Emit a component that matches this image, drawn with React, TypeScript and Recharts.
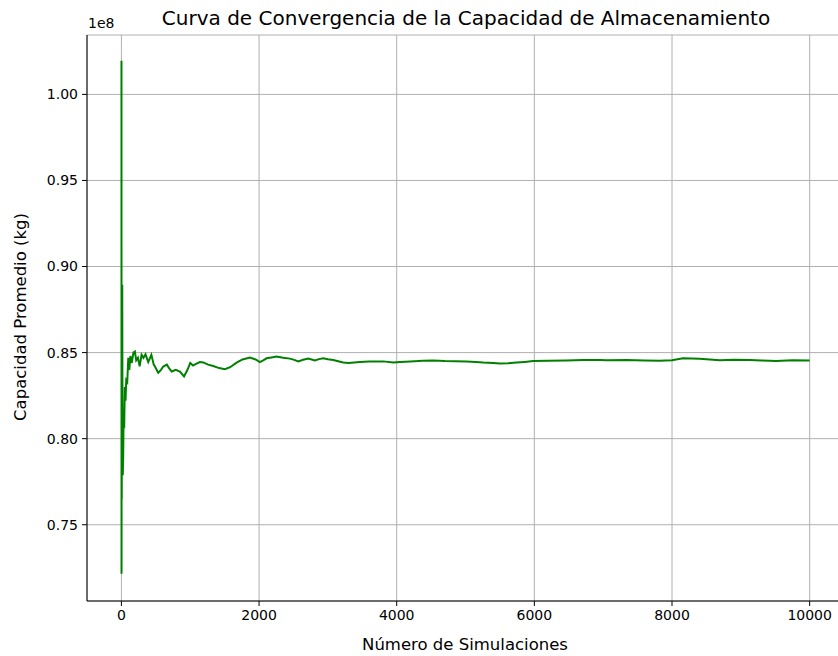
import React from "react";
import {
  LineChart,
  Line,
  XAxis,
  YAxis,
  CartesianGrid,
} from "recharts";

const simulaciones = [
  1, 2, 3, 5, 8, 12, 16, 20, 26, 32, 40, 50, 60, 70, 85, 100, 115, 130, 150,
  175, 196, 215, 240, 265, 293, 320, 350, 390, 435, 470, 487, 535, 575, 608,
  660, 700, 730, 790, 850, 910, 960, 1000, 1040, 1070, 1140, 1190, 1260, 1334,
  1420, 1503, 1580, 1673, 1760, 1867, 1950, 2012, 2060, 2109, 2180, 2254, 2350,
  2448, 2510, 2570, 2640, 2715, 2812, 2870, 2933, 3000, 3078, 3150, 3223, 3300,
  3465, 3600, 3804, 3950, 4046, 4200, 4380, 4530, 4700, 4850, 5014, 5150, 5256,
  5400, 5498, 5620, 5740, 5860, 5982, 6200, 6466, 6708, 6950, 7047, 7337, 7600,
  7821, 8000, 8160, 8402, 8693, 8900, 9129, 9300, 9516, 9750, 10000,
];

// running mean capacity, in units of 1e8 kg
const capacidad = [
  1.0195, 0.7216, 0.87, 0.765, 0.84, 0.8894, 0.805, 0.7787, 0.79, 0.815, 0.806,
  0.83, 0.822, 0.834, 0.833, 0.847, 0.84, 0.848, 0.844, 0.85, 0.8506, 0.8455,
  0.847, 0.842, 0.8487, 0.847, 0.849, 0.8445, 0.8487, 0.843, 0.8419, 0.8383,
  0.84, 0.8419, 0.843, 0.8405, 0.839, 0.84, 0.839, 0.8362, 0.84, 0.844, 0.8425,
  0.8432, 0.8445, 0.8443, 0.843, 0.8422, 0.841, 0.8403, 0.8415, 0.8442, 0.846,
  0.8471, 0.846, 0.8445, 0.8455, 0.8467, 0.8472, 0.8477, 0.847, 0.8465, 0.8458,
  0.8449, 0.8458, 0.8465, 0.8454, 0.8462, 0.8467, 0.8462, 0.8457, 0.845,
  0.8442, 0.844, 0.8445, 0.8448, 0.8449, 0.8443, 0.8445, 0.8448, 0.8452,
  0.8454, 0.8451, 0.845, 0.8449, 0.8446, 0.8442, 0.8439, 0.8436, 0.8438,
  0.8442, 0.8446, 0.8451, 0.8452, 0.8454, 0.8457, 0.8457, 0.8455, 0.8457,
  0.8454, 0.8452, 0.8456, 0.8467, 0.8464, 0.8455, 0.8459, 0.8457, 0.8454,
  0.8451, 0.8455, 0.8454,
];

const xTicks = [0, 2000, 4000, 6000, 8000, 10000];
const yTicks = [0.75, 0.8, 0.85, 0.9, 0.95, 1.0].map((v) => v * 1e8);

const data = simulaciones.map((n, i) => ({
  n,
  cap: capacidad[i] * 1e8,
}));

const FONT = "'DejaVu Sans', sans-serif";
const tickStyle = { fontSize: 14, fill: "#000", fontFamily: FONT };

export default function App() {
  return (
    <div
      style={{
        position: "fixed",
        left: 0,
        top: 0,
        width: 838,
        height: 656,
        overflow: "hidden",
        background: "#fff",
        fontFamily: FONT,
        color: "#000",
      }}
    >
      <LineChart
        width={846}
        height={656}
        data={data}
        margin={{ top: 35, right: 2, bottom: 0, left: 0 }}
      >
        <CartesianGrid stroke="#b0b0b0" strokeWidth={1} />
        <XAxis
          dataKey="n"
          type="number"
          domain={[-500, 10499]}
          ticks={xTicks}
          allowDataOverflow
          height={55}
          tickSize={5}
          tickMargin={4}
          tick={tickStyle}
          stroke="#000"
          interval={0}
        />
        <XAxis
          xAxisId="top"
          orientation="top"
          dataKey="n"
          type="number"
          domain={[-500, 10499]}
          height={0}
          tick={false}
          tickLine={false}
          stroke="#000"
        />
        <YAxis
          type="number"
          domain={[0.7057e8, 1.0345e8]}
          ticks={yTicks}
          allowDataOverflow
          width={87}
          tickSize={5}
          tickMargin={4}
          tick={tickStyle}
          stroke="#000"
          interval={0}
          tickFormatter={(v: number) => (v / 1e8).toFixed(2)}
        />
        <Line
          dataKey="cap"
          type="linear"
          stroke="#008000"
          strokeWidth={2}
          dot={false}
          isAnimationActive={false}
        />
      </LineChart>

      <div
        style={{
          position: "absolute",
          left: 466,
          top: 18,
          transform: "translate(-50%, -50%)",
          fontSize: 20,
          whiteSpace: "nowrap",
        }}
      >
        Curva de Convergencia de la Capacidad de Almacenamiento
      </div>
      <div
        style={{
          position: "absolute",
          left: 88,
          top: 23,
          transform: "translateY(-50%)",
          fontSize: 14,
        }}
      >
        1e8
      </div>
      <div
        style={{
          position: "absolute",
          left: 20,
          top: 317,
          transform: "translate(-50%, -50%) rotate(-90deg)",
          fontSize: 16.5,
          whiteSpace: "nowrap",
        }}
      >
        Capacidad Promedio (kg)
      </div>
      <div
        style={{
          position: "absolute",
          left: 465,
          top: 644,
          transform: "translate(-50%, -50%)",
          fontSize: 16.5,
          whiteSpace: "nowrap",
        }}
      >
        Número de Simulaciones
      </div>
    </div>
  );
}
